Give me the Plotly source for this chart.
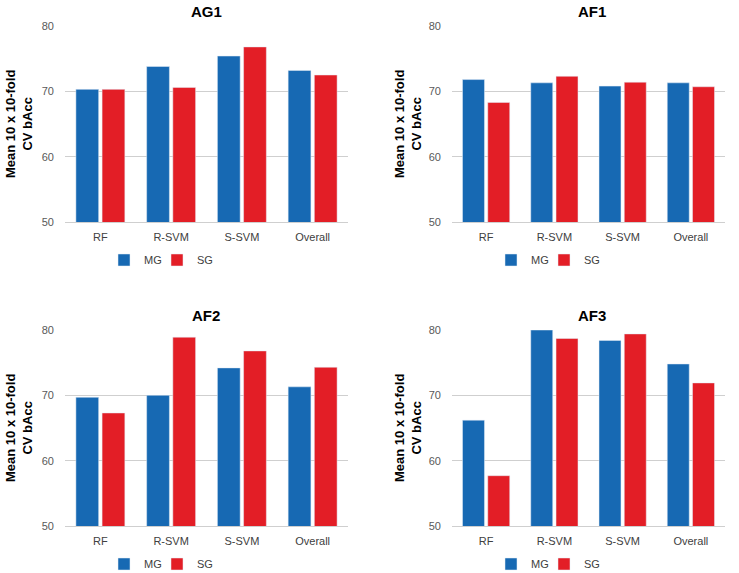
import plotly.graph_objects as go

categories = ["RF", "R-SVM", "S-SVM", "Overall"]
panel_titles = ["AG1", "AF1", "AF2", "AF3"]
series_names = ["MG", "SG"]
mg_values = {
    "AG1": [70.3, 73.8, 75.4, 73.2],
    "AF1": [71.8, 71.3, 70.8, 71.3],
    "AF2": [69.7, 70.0, 74.2, 71.3],
    "AF3": [66.2, 80.0, 78.4, 74.8],
}
sg_values = {
    "AG1": [70.3, 70.6, 76.8, 72.5],
    "AF1": [68.3, 72.3, 71.4, 70.7],
    "AF2": [67.3, 78.9, 76.8, 74.3],
    "AF3": [57.7, 78.7, 79.4, 71.9],
}
y_ticks = [50, 60, 70, 80]

W, H = 739, 573
COLORS = ["#1769B3", "#E31E26"]
FONT = "Liberation Sans, Arial, sans-serif"

# page-pixel layout: (x0, x1, ytop, ybottom)
panels = [
    (65, 348, 26, 222),
    (452, 725, 26, 222),
    (65, 348, 330, 526),
    (452, 725, 330, 526),
]
title_x = [206, 592, 206, 592]
ytitle_x = [19, 408, 19, 408]
# symbol centres of the two legend entries per panel
legend_sym_x = [(124, 177), (511, 564), (124, 177), (511, 564)]
legend_y = [260, 260, 564, 564]


def px(x):
    return x / W


def py(y):
    return (H - y) / H


fig = go.Figure()
annotations = []
leg_idx = 0
for i, name in enumerate(panel_titles):
    x0, x1, yt, yb = panels[i]
    sfx = "" if i == 0 else str(i + 1)
    for s, (sname, vals) in enumerate(zip(series_names, [mg_values[name], sg_values[name]])):
        leg_idx += 1
        leg = "legend" if leg_idx == 1 else f"legend{leg_idx}"
        fig.add_trace(go.Bar(x=categories, y=vals, name=sname, marker_color=COLORS[s],
                             xaxis="x" + sfx, yaxis="y" + sfx, legend=leg, showlegend=True))
        fig.layout[leg] = dict(
            orientation="h", x=px(legend_sym_x[i][s] - 20), y=py(legend_y[i]),
            xanchor="left", yanchor="middle", bgcolor="rgba(0,0,0,0)",
            font=dict(family=FONT, size=11, color="#404040"),
            itemwidth=30, tracegroupgap=0,
        )
    fig.layout["xaxis" + sfx] = dict(
        domain=[px(x0), px(x1)], anchor="y" + sfx, showgrid=False, automargin=False,
        showline=True, linecolor="#cfcfcf", linewidth=1, ticks="", ticklabelstandoff=5,
        tickfont=dict(family=FONT, size=11, color="#404040"), fixedrange=True,
    )
    fig.layout["yaxis" + sfx] = dict(
        domain=[py(yb), py(yt)], anchor="x" + sfx, range=[50, 80],
        tickvals=y_ticks, showgrid=True, gridcolor="#cfcfcf", gridwidth=1,
        zeroline=False, ticks="", ticklabelstandoff=10, automargin=False,
        tickfont=dict(family=FONT, size=11, color="#595959"), fixedrange=True,
    )
    annotations.append(dict(
        text=f"<b>{name}</b>", x=px(title_x[i]), y=py(yt - 15),
        xref="paper", yref="paper", showarrow=False, xanchor="center", yanchor="middle",
        font=dict(family=FONT, size=15, color="#000000"),
    ))
    annotations.append(dict(
        text="<b>Mean 10 x 10-fold<br>CV bAcc</b>", x=px(ytitle_x[i]), y=py((yt + yb) / 2),
        xref="paper", yref="paper", showarrow=False, xanchor="center", yanchor="middle",
        textangle=-90, font=dict(family=FONT, size=13, color="#000000"),
    ))

fig.update_layout(
    width=W, height=H, margin=dict(l=0, r=0, t=0, b=0, autoexpand=False),
    paper_bgcolor="white", plot_bgcolor="white", showlegend=True,
    barmode="group", bargap=0.26, bargroupgap=0.13,
    annotations=annotations,
)
fig.write_html(
    "out.html",
    config={"displayModeBar": False},
    post_script="document.body.style.margin='0';document.body.style.overflow='hidden';",
)
